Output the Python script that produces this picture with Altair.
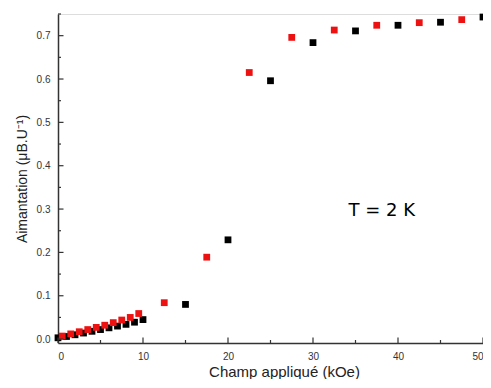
import altair as alt
import pandas as pd

# Black series (kOe, muB/U)
black_x = [0, 1, 2, 3, 4, 5, 6, 7, 8, 9, 10, 15, 20, 25, 30, 35, 40, 45, 50]
black_y = [0.003, 0.006, 0.010, 0.014, 0.018, 0.022, 0.026, 0.030, 0.034, 0.039,
           0.045, 0.080, 0.229, 0.596, 0.684, 0.711, 0.724, 0.731, 0.743]
# Red series
red_x = [0.5, 1.5, 2.5, 3.5, 4.5, 5.5, 6.5, 7.5, 8.5, 9.5,
         12.5, 17.5, 22.5, 27.5, 32.5, 37.5, 42.5, 47.5]
red_y = [0.007, 0.012, 0.017, 0.022, 0.027, 0.032, 0.038, 0.044, 0.050, 0.059,
         0.084, 0.189, 0.615, 0.696, 0.713, 0.724, 0.730, 0.737]

x_major = [0, 10, 20, 30, 40, 50]
x_minor = [5, 15, 25, 35, 45]
y_major = [0.0, 0.1, 0.2, 0.3, 0.4, 0.5, 0.6, 0.7]
y_minor = [0.05, 0.15, 0.25, 0.35, 0.45, 0.55, 0.65, 0.75]

annot_text = ["T = 2 K"]
annot_x = [38.1]
annot_y = [0.283]

W, H = 425, 329
XDOM = [0, 50]
YDOM = [-0.009, 0.75]
AXC = "#333333"
LABF = "Liberation Sans"

df = pd.concat([
    pd.DataFrame({"x": black_x, "y": black_y, "s": "black"}),
    pd.DataFrame({"x": red_x, "y": red_y, "s": "red"}),
])

xsc = alt.Scale(domain=XDOM, nice=False, zero=False)
ysc = alt.Scale(domain=YDOM, nice=False, zero=False)

points = alt.Chart(df).mark_square(size=46, opacity=1).encode(
    x=alt.X("x:Q", scale=xsc,
            axis=alt.Axis(values=x_major, format="d", tickSize=0, grid=False,
                          domainColor=AXC, domainWidth=1.5,
                          labelFont=LABF, labelFontSize=10, labelColor=AXC,
                          labelPadding=8,
                          title="Champ appliqué (kOe)", titleFont=LABF,
                          titleFontSize=15, titleFontWeight="normal",
                          titleColor="#222222", titleX=226, titleY=33,
                          titleBaseline="alphabetic")),
    y=alt.Y("y:Q", scale=ysc,
            axis=alt.Axis(values=y_major, format=".1f", tickSize=0, grid=False,
                          domainColor=AXC, domainWidth=1.5,
                          labelFont=LABF, labelFontSize=10, labelColor=AXC,
                          labelPadding=8,
                          title="Aimantation (μB.U⁻¹)", titleFont=LABF,
                          titleFontSize=14, titleFontWeight="normal",
                          titleColor="#222222", titlePadding=7)),
    color=alt.Color("s:N", scale=alt.Scale(domain=["black", "red"],
                                           range=["#000000", "#ee1111"]),
                    legend=None),
)

def vticks(vals, length):
    d = pd.DataFrame({"x": vals})
    return alt.Chart(d).mark_rule(color=AXC, strokeWidth=1.2).encode(
        x=alt.X("x:Q", scale=xsc), y=alt.value(H), y2=alt.value(H - length))

def hticks(vals, length):
    d = pd.DataFrame({"y": vals})
    return alt.Chart(d).mark_rule(color=AXC, strokeWidth=1.2).encode(
        y=alt.Y("y:Q", scale=ysc), x=alt.value(0), x2=alt.value(length))

annot = alt.Chart(pd.DataFrame({"t": annot_text, "x": annot_x, "y": annot_y})).mark_text(
    font="DejaVu Sans", fontSize=18, color="#000000", align="center", baseline="alphabetic"
).encode(x=alt.X("x:Q", scale=xsc), y=alt.Y("y:Q", scale=ysc), text="t:N")

chart = alt.layer(
    points,
    vticks(x_major, 5.5), vticks(x_minor, 3),
    hticks(y_major, 5.5), hticks(y_minor, 3),
    annot,
).properties(
    width=W, height=H,
    autosize=alt.AutoSizeParams(type="none"),
    padding={"left": 50, "top": 6, "right": 0, "bottom": 36},
).configure_view(
    stroke=AXC, strokeWidth=1.5
).configure(background="white")

chart.save("out.html", embed_options={"renderer": "svg", "actions": False})
